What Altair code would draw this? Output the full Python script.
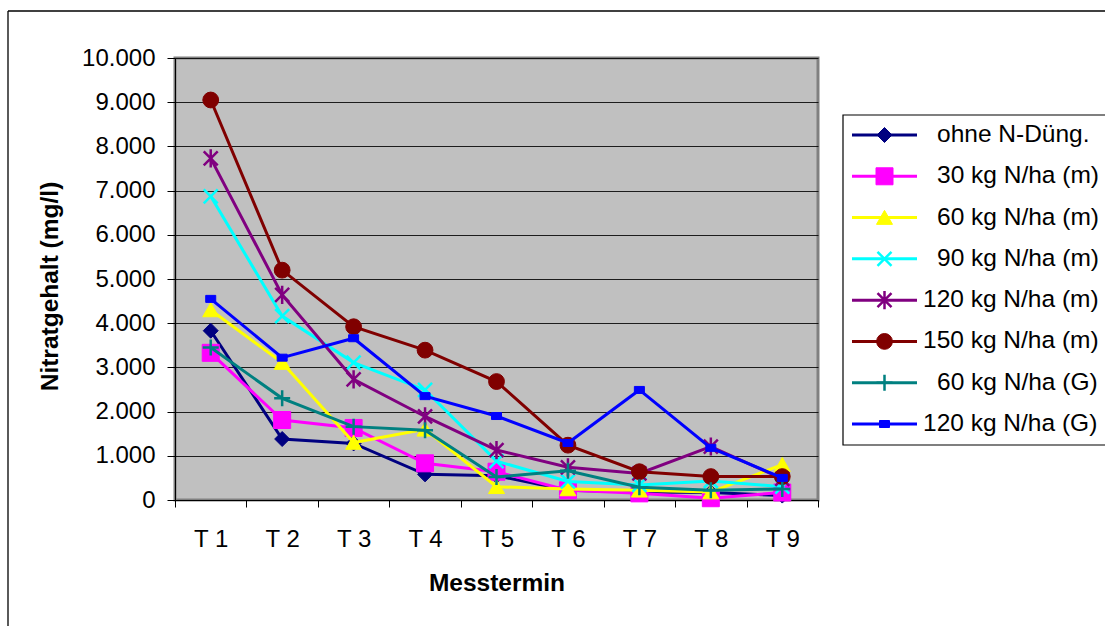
import altair as alt
import pandas as pd

terms = ["T 1", "T 2", "T 3", "T 4", "T 5", "T 6", "T 7", "T 8", "T 9"]
series = ["ohne N-Düng.", "30 kg N/ha (m)", "60 kg N/ha (m)", "90 kg N/ha (m)",
          "120 kg N/ha (m)", "150 kg N/ha (m)", "60 kg N/ha (G)", "120 kg N/ha (G)"]

v_ohne = [3830, 1380, 1280, 580, 550, 220, 180, 170, 100]
v_30m = [3330, 1810, 1630, 830, 640, 220, 150, 40, 170]
v_60m = [4300, 3110, 1300, 1600, 300, 250, 220, 180, 800]
v_90m = [6870, 4160, 3110, 2490, 880, 420, 340, 430, 300]
v_120m = [7730, 4640, 2730, 1890, 1130, 740, 600, 1210, 480]
v_150m = [9050, 5200, 3920, 3390, 2680, 1240, 640, 530, 530]
v_60g = [3450, 2300, 1660, 1580, 520, 660, 290, 220, 250]
v_120g = [4550, 3220, 3660, 2350, 1900, 1290, 2490, 1180, 500]
values = [v_ohne, v_30m, v_60m, v_90m, v_120m, v_150m, v_60g, v_120g]

colors = ["#000080", "#FF00FF", "#FFFF00", "#00FFFF", "#800080", "#800000", "#008080", "#0000FF"]
shapes = ["M0,-1L1,0L0,1L-1,0Z",
          "M-1,-1L1,-1L1,1L-1,1Z",
          "M0,-0.9L1,0.85L-1,0.85Z",
          "M-1,-1L1,1M-1,1L1,-1",
          "M-1,-1L1,1M-1,1L1,-1M0,-1.3L0,1.3",
          "circle",
          "M-1,0L1,0M0,-1L0,1",
          "M-1,-0.7L1,-0.7L1,0.7L-1,0.7Z"]
sizes = [225, 289, 256, 196, 196, 250, 256, 100]
stroke_w = [1, 1, 1, 2.5, 2.5, 1, 2.5, 1]
label_x = [762, 762, 762, 762, 748, 748, 762, 748]

FONT = "Liberation Sans"

rows = []
for s, vals in zip(series, values):
    for t, v in zip(terms, vals):
        rows.append({"series": s, "term": t, "value": v})
df = pd.DataFrame(rows)

x_enc = alt.X("term:N", sort=terms, title="Messtermin",
              scale=alt.Scale(type="band", domain=terms, paddingInner=0, paddingOuter=0),
              axis=alt.Axis(tickBand="extent", labelAngle=0, labelFontSize=24, labelFont=FONT,
                            labelColor="black", tickColor="black", domainColor="black", tickSize=7,
                            labelPadding=20, titleFontSize=24.5, titleFont=FONT, titleFontWeight="bold",
                            titleColor="black", titleY=71, grid=False))
y_enc = alt.Y("value:Q", title="Nitratgehalt (mg/l)",
              scale=alt.Scale(domain=[0, 10000]),
              axis=alt.Axis(values=list(range(0, 10001, 1000)),
                            labelExpr="replace(format(datum.value, ','), ',', '.')",
                            labelFontSize=24, labelFont=FONT, labelColor="black",
                            tickColor="black", domainColor="black", tickSize=8, labelPadding=12,
                            gridColor="#000000", gridWidth=1, gridOpacity=0.85,
                            titleFontSize=24.5, titleFont=FONT, titleFontWeight="bold",
                            titleColor="black", titleX=-113, titleY=228))

main_layers = []
for i, s in enumerate(series):
    d = df[df["series"] == s]
    main_layers.append(
        alt.Chart(d).mark_line(color=colors[i], strokeWidth=3).encode(x=x_enc, y=y_enc))
    main_layers.append(
        alt.Chart(d).mark_point(shape=shapes[i], size=sizes[i], filled=True, fill=colors[i],
                                stroke=colors[i], strokeWidth=stroke_w[i], opacity=1)
        .encode(x=x_enc, y=y_enc))
main = alt.layer(*main_layers)

leg_df = pd.DataFrame({"series": series})
one = pd.DataFrame({"a": [0]})
ly = alt.Y("series:N", sort=series, axis=None,
           scale=alt.Scale(type="point", domain=series, range=[77, 366], padding=0))

legend_layers = [
    alt.Chart(one).mark_rect(fill="white", stroke="black", strokeWidth=1.2).encode(
        x=alt.value(668), x2=alt.value(940), y=alt.value(57), y2=alt.value(387)),
    alt.Chart(one).mark_rule(color="black", strokeWidth=1.3).encode(
        x=alt.value(-167), y=alt.value(-47), y2=alt.value(575)),
    alt.Chart(one).mark_rule(color="black", strokeWidth=1.3).encode(
        x=alt.value(-167), x2=alt.value(940), y=alt.value(-47)),
]
for i, s in enumerate(series):
    d = leg_df[leg_df["series"] == s]
    legend_layers.append(
        alt.Chart(d).mark_rule(color=colors[i], strokeWidth=3).encode(
            x=alt.value(677), x2=alt.value(742), y=ly))
    legend_layers.append(
        alt.Chart(d).mark_point(shape=shapes[i], size=sizes[i], filled=True, fill=colors[i],
                                stroke=colors[i], strokeWidth=stroke_w[i], opacity=1)
        .encode(x=alt.value(709.5), y=ly))
    legend_layers.append(
        alt.Chart(d).mark_text(align="left", baseline="middle", fontSize=24.5, font=FONT,
                               color="black").encode(x=alt.value(label_x[i]), y=ly, text="series:N"))
legend = alt.layer(*legend_layers)

chart = alt.layer(main, legend).resolve_scale(y="independent").properties(
    width=643, height=442,
    padding={"left": 175, "top": 58, "right": 287, "bottom": 126},
    autosize=alt.AutoSizeParams(type="none"),
).configure_view(fill="#C0C0C0", stroke="#808080", strokeWidth=3)

chart.save("out.html", embed_options={"renderer": "svg", "actions": False})
